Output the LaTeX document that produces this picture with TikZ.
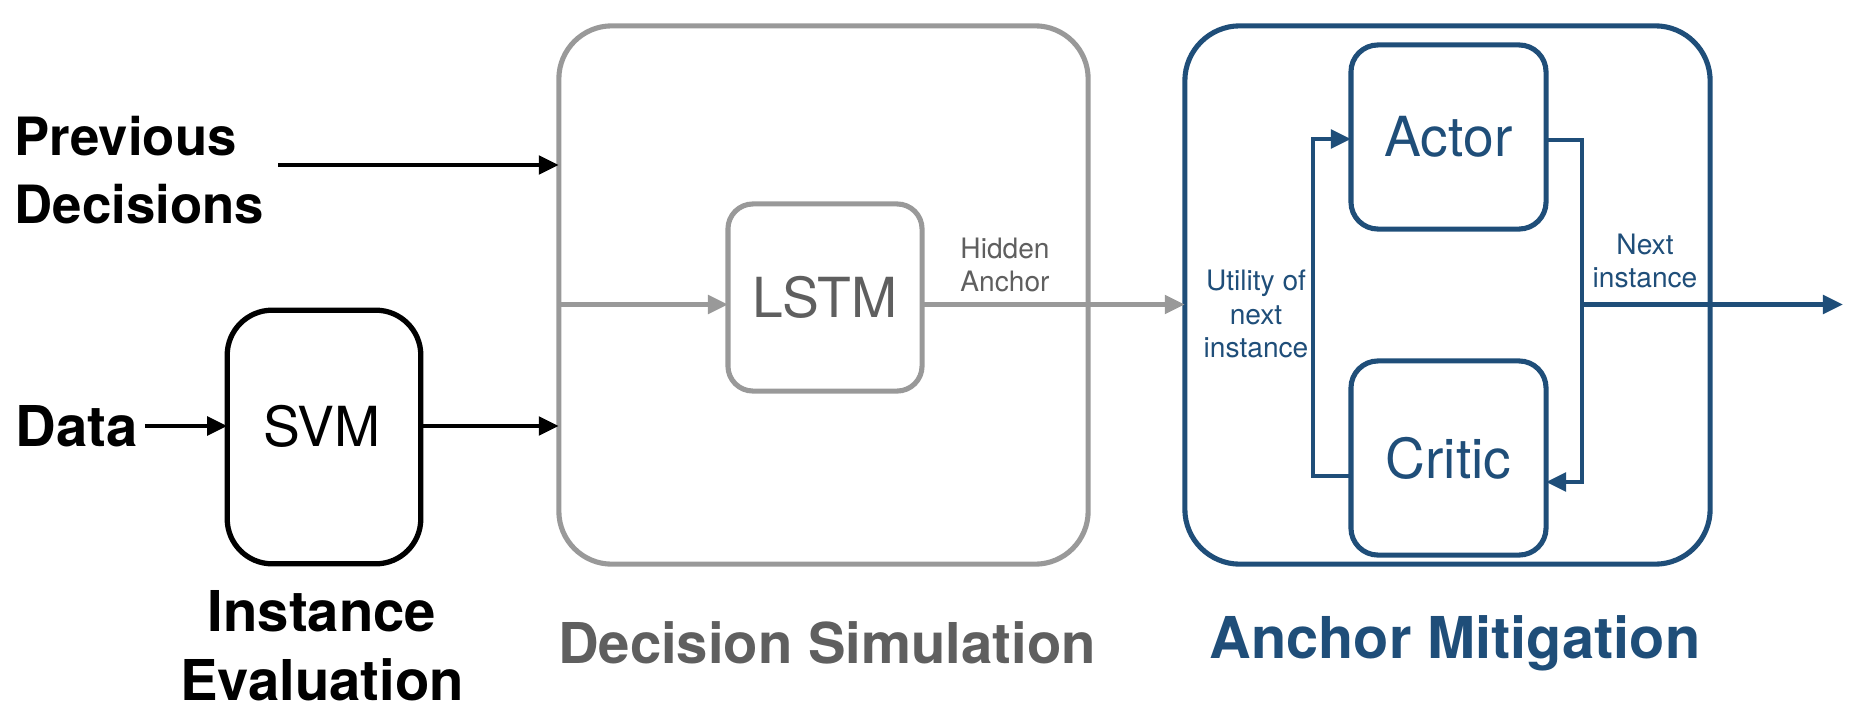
\documentclass[tikz,border=0pt]{standalone}
\usepackage{fontspec}
\setmainfont{TeX Gyre Heros}
\usetikzlibrary{arrows.meta}
\definecolor{dsgray}{HTML}{999999}
\definecolor{dstext}{HTML}{5F5F5F}
\definecolor{amblue}{HTML}{1F4E79}
\begin{document}
\begin{tikzpicture}[x=0.01cm,y=-0.01cm,
  bigtitle/.style={font=\fontsize{16}{19.5}\selectfont\bfseries, align=center, inner sep=0},
  boxlabel/.style={font=\fontsize{15.7}{18}\selectfont, inner sep=0},
  smalllabel/.style={font=\fontsize{8}{9.6}\selectfont, align=center, inner sep=0},
  rbox/.style={draw, line width=1.45pt, inner sep=0, outer sep=0},
  tip/.style={-{Triangle[length=5.7pt,width=5.2pt]}},
  blackarrow/.style={tip, draw=black, line width=1.25pt},
  grayarrow/.style={tip, draw=dsgray, fill=dsgray, line width=1.25pt},
  bluearrow/.style={tip, draw=amblue, line width=1.25pt}
]
\useasboundingbox (0,0) rectangle (1858,715);

% ---- left column
\node[bigtitle, font=\fontsize{15}{19.5}\selectfont\bfseries, anchor=west, align=left] (prev) at (14,170) {Previous\\Decisions};
\node[bigtitle] (data) at (77,426) {Data};
\node[rbox, draw=black, line width=1.5pt, rounded corners=0.45cm,
      minimum width=1.935cm, minimum height=2.535cm] (svm) at (324,437) {};
\node[boxlabel] (svmtxt) at (322,426) {SVM};
\node[bigtitle] (ie) at (322,646) {Instance\\Evaluation};

% ---- decision simulation
\node[rbox, draw=dsgray, rounded corners=0.53cm,
      minimum width=5.29cm, minimum height=5.38cm] (ds) at (823.5,295) {};
\node[rbox, draw=dsgray, rounded corners=0.25cm, text=dstext, boxlabel,
      minimum width=1.94cm, minimum height=1.87cm] (lstm) at (825,297.5) {LSTM};
\node[smalllabel, text=dstext] (hid) at (1005,265) {Hidden\\Anchor};
\node[bigtitle, text=dstext] (dst) at (827,643) {Decision Simulation};

% ---- anchor mitigation
\node[rbox, draw=amblue, rounded corners=0.55cm,
      minimum width=5.25cm, minimum height=5.38cm] (am) at (1447.5,295) {};
\node[rbox, draw=amblue, rounded corners=0.27cm, text=amblue, boxlabel,
      minimum width=1.95cm, minimum height=1.84cm] (actor) at (1448.5,137) {Actor};
\node[rbox, draw=amblue, rounded corners=0.27cm, text=amblue, boxlabel,
      minimum width=1.95cm, minimum height=1.94cm] (critic) at (1448.5,458) {Critic};
\node[smalllabel, text=amblue] (util) at (1256,314) {Utility of\\next\\instance};
\node[smalllabel, text=amblue] (nxt) at (1645,261) {Next\\instance};
\node[bigtitle, font=\fontsize{16.4}{19.5}\selectfont\bfseries, text=amblue] (amt) at (1455,643) {Anchor Mitigation};

% ---- connectors
\coordinate (pa) at (278,165);
\draw[blackarrow] (pa) -- (pa -| ds.west);
\draw[blackarrow] ([xshift=0.06cm]data.east) -- (svm.west |- data.east);
\draw[blackarrow] (svm.east |- data.east) -- (ds.west |- data.east);

\draw[grayarrow] (ds.west |- 0,304.5) -- (lstm.west |- 0,304.5);
\draw[grayarrow] (lstm.east |- 0,304.5) -- (am.west |- 0,304.5);

\coordinate (lx) at (1313,0);
\coordinate (rx) at (1582,0);
\draw[bluearrow] (critic.west |- 0,476) -| (lx |- 0,139) -- (actor.west |- 0,139);
\draw[bluearrow] (actor.east |- 0,140) -| (rx |- 0,482) -- (critic.east |- 0,482);
\coordinate (br) at (rx |- 0,304.5);
\coordinate (outend) at (1843,304.5);
\draw[bluearrow] (br) -- (outend);
\end{tikzpicture}
\end{document}
